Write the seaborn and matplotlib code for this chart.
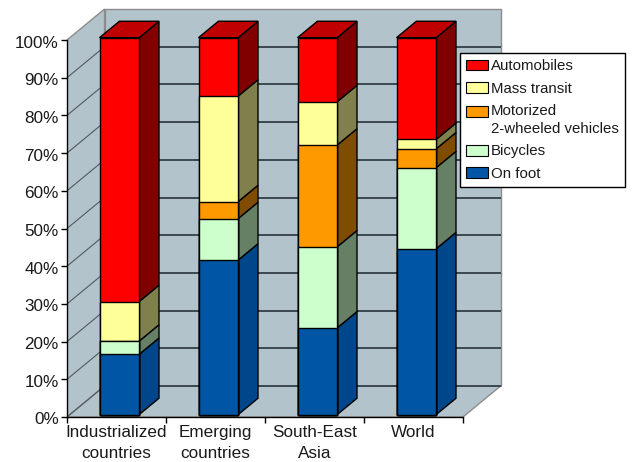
import numpy as np
import matplotlib
matplotlib.use("Agg")
import matplotlib.pyplot as plt
import matplotlib.transforms as mtransforms
from matplotlib.patches import Polygon, Patch
from matplotlib.legend_handler import HandlerPatch
from matplotlib.ticker import FixedLocator
import seaborn as sns

# ---- data (share of trips, %) ----
categories = ["Industrialized\ncountries", "Emerging\ncountries", "South-East\nAsia", "World"]
on_foot      = [16.0, 41.0, 23.0, 44.0]
bicycles     = [3.5, 11.0, 21.5, 21.5]
motorized    = [0.0, 4.5, 27.0, 5.0]
mass_transit = [10.5, 28.0, 11.5, 2.5]
automobiles  = [70.0, 15.5, 17.0, 27.0]

series_names = ["On foot", "Bicycles", "Motorized\n2-wheeled vehicles",
                "Mass transit", "Automobiles"]
series_values = [on_foot, bicycles, motorized, mass_transit, automobiles]
y_ticks = list(range(0, 101, 10))
y_tick_labels = [f"{v}%" for v in y_ticks]

# ---- styling ----
front_colors = ["#0055a5", "#ccffcc", "#ff9900", "#ffff99", "#ff0000"]
side_colors  = ["#00468a", "#668066", "#804c00", "#80804c", "#800000"]
top_colors   = ["#00407c", "#99bf99", "#bf7300", "#bfbf73", "#c00000"]
wall_color = "#b3c3cc"
wall_edge = "#8c8c8c"
grid_back = "#3c4850"
grid_side = "#505a60"

# pseudo-3D geometry in data units
DX, DY = 0.379, 8.22      # full depth of the box
BAR_W = 0.4               # bar width (category units)
D0, DB = 0.075, 0.53      # bar front offset and bar depth (fractions of full depth)

sns.set_style("white")
plt.rcParams["font.family"] = ["Liberation Sans", "DejaVu Sans"]

fig = plt.figure(figsize=(6.35, 4.62), dpi=100)
ax = fig.add_axes([67 / 635, 45 / 462, 435.6 / 635, 414.7 / 462])
ax.set_facecolor("none")

x0, x1 = -0.5, len(categories) - 0.5

# ---- box: left wall, back wall, floor ----
ax.add_patch(Polygon([(x0, 0), (x0, 100), (x0 + DX, 100 + DY), (x0 + DX, DY)],
                     closed=True, facecolor=wall_color, edgecolor=wall_edge,
                     linewidth=1.0, zorder=0.5))
ax.add_patch(Polygon([(x0 + DX, DY), (x0 + DX, 100 + DY), (x1 + DX, 100 + DY), (x1 + DX, DY)],
                     closed=True, facecolor=wall_color, edgecolor=wall_edge,
                     linewidth=1.0, zorder=0.5))
ax.add_patch(Polygon([(x0, 0), (x1, 0), (x1 + DX, DY), (x0 + DX, DY)],
                     closed=True, facecolor=wall_color, edgecolor=wall_edge,
                     linewidth=1.0, zorder=0.5))

# gridlines on back wall and left wall
for v in y_ticks[:-1]:
    ax.plot([x0 + DX, x1 + DX], [v + DY, v + DY], color=grid_back, lw=1.4,
            solid_capstyle="butt", zorder=0.6)
    ax.plot([x0, x0 + DX], [v, v + DY], color=grid_side, lw=0.8, zorder=0.6)

# ---- stacked bars: front faces via seaborn ----
cum = np.cumsum(np.array(series_values), axis=0)
bar_shift = mtransforms.Affine2D().translate(D0 * DX, D0 * DY) + ax.transData
for k in reversed(range(len(series_values))):
    n_before = len(ax.patches)
    sns.barplot(x=categories, y=cum[k], color=front_colors[k], saturation=1,
                width=BAR_W, edgecolor="black", linewidth=1.0, errorbar=None,
                ax=ax, zorder=3)
    for p in ax.patches[n_before:]:
        p.set_transform(bar_shift)

# side and top faces
for i in range(len(categories)):
    xr = i + BAR_W / 2 + D0 * DX
    xl = i - BAR_W / 2 + D0 * DX
    ddx, ddy = DB * DX, DB * DY
    for k in range(len(series_values)):
        val = series_values[k][i]
        if val <= 0:
            continue
        top = cum[k][i] + D0 * DY
        bot = top - val
        ax.add_patch(Polygon([(xr, bot), (xr, top), (xr + ddx, top + ddy), (xr + ddx, bot + ddy)],
                             closed=True, facecolor=side_colors[k], edgecolor="black",
                             linewidth=1.0, zorder=2))
    k_top = max(k for k in range(len(series_values)) if series_values[k][i] > 0)
    top = cum[-1][i] + D0 * DY
    ax.add_patch(Polygon([(xl, top), (xr, top), (xr + ddx, top + ddy), (xl + ddx, top + ddy)],
                         closed=True, facecolor=top_colors[k_top], edgecolor="black",
                         linewidth=1.0, zorder=2))

# ---- axes ----
ax.set_xlim(x0, x1 + 0.4)
ax.set_ylim(0, 110)
ax.set_xlabel("")
ax.set_ylabel("")
ax.grid(False)
for side in ("top", "right"):
    ax.spines[side].set_visible(False)
ax.spines["left"].set_bounds(0, 100)
ax.spines["bottom"].set_bounds(x0, x1)
for side in ("left", "bottom"):
    ax.spines[side].set_color("black")
    ax.spines[side].set_linewidth(1.0)
    ax.spines[side].set_zorder(4)

ax.set_yticks(y_ticks, y_tick_labels)
ax.set_xticks(range(len(categories)), categories, linespacing=1.45)
ax.xaxis.set_minor_locator(FixedLocator(np.arange(x0, x1 + 0.01, 1.0)))
ax.tick_params(axis="y", direction="out", length=4, width=1, pad=2,
               labelsize=12.3, colors="black", labelcolor="#1a1a1a", left=True)
ax.tick_params(axis="x", which="major", length=0, pad=6, labelsize=12.3,
               labelcolor="#1a1a1a")
ax.tick_params(axis="x", which="minor", direction="out", length=4, width=1,
               color="black", bottom=True)

# y labels sit slightly below their ticks
label_drop = mtransforms.ScaledTranslation(0, -1.5 / 100, fig.dpi_scale_trans)
for lab in ax.get_yticklabels():
    lab.set_transform(lab.get_transform() + label_drop)


# ---- legend ----
class FirstLineHandler(HandlerPatch):
    """Aligns the swatch with the first line of a two-line label."""
    def create_artists(self, legend, orig_handle, xdescent, ydescent,
                       width, height, fontsize, trans):
        return super().create_artists(legend, orig_handle, xdescent,
                                      ydescent - 0.61 * fontsize,
                                      width, height, fontsize, trans)


order = [4, 3, 2, 1, 0]
handles = [Patch(facecolor=front_colors[k], edgecolor="black", linewidth=0.8) for k in order]
labels = [series_names[k] for k in order]
leg = fig.legend(handles, labels, loc="upper left",
                 bbox_to_anchor=(460 / 635, 1 - 53.3 / 462),
                 bbox_transform=fig.transFigure, borderaxespad=0,
                 fontsize=10.8, frameon=True, fancybox=False, framealpha=1,
                 edgecolor="black", borderpad=0.4, handlelength=1.47,
                 handleheight=0.73, handletextpad=0.2, labelspacing=0.55,
                 handler_map={handles[2]: FirstLineHandler()})
leg.get_frame().set_linewidth(1.0)
for t in leg.get_texts():
    t.set_linespacing(1.4)
    t.set_color("#1a1a1a")

fig.savefig("out.png", dpi=100)
